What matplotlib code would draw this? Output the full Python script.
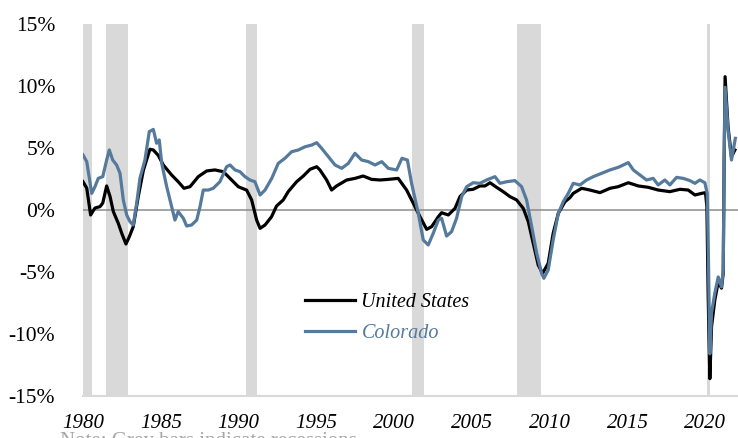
import numpy as np
import matplotlib
matplotlib.use("Agg")
import matplotlib.pyplot as plt

# employment growth, year over year (%)
us_years = [1980.0, 1980.24, 1980.49, 1980.77, 1981.09, 1981.27, 1981.52, 1981.74, 1981.95,
            1982.27, 1982.49, 1982.76, 1982.98, 1983.23, 1983.55, 1983.88, 1984.3, 1984.52,
            1984.84, 1985.16, 1985.7, 1986.12, 1986.49, 1986.88, 1987.41, 1987.95, 1988.48,
            1989.02, 1989.45, 1989.98, 1990.52, 1990.84, 1991.16, 1991.38, 1991.7, 1992.12,
            1992.44, 1992.87, 1993.19, 1993.73, 1994.16, 1994.59, 1995.02, 1995.23, 1995.66,
            1995.98, 1996.3, 1996.95, 1997.48, 1998.01, 1998.55, 1999.09, 1999.62, 2000.26,
            2000.8, 2001.23, 2001.66, 2002.09, 2002.41, 2002.84, 2003.05, 2003.48, 2003.91,
            2004.23, 2004.66, 2005.08, 2005.51, 2005.84, 2006.16, 2006.58, 2007.01, 2007.44,
            2007.87, 2008.3, 2008.62, 2008.94, 2009.26, 2009.54, 2009.9, 2010.22, 2010.55,
            2010.98, 2011.3, 2011.51, 2012.05, 2012.58, 2013.23, 2013.87, 2014.4, 2015.05,
            2015.69, 2016.33, 2016.97, 2017.72, 2018.37, 2018.9, 2019.33, 2019.76, 2020.01,
            2020.1, 2020.18, 2020.29, 2020.4, 2020.61, 2020.83, 2021.04, 2021.15, 2021.21,
            2021.27, 2021.46, 2021.68, 2021.9]
us_vals = [2.28, 1.77, -0.4, 0.16, 0.27, 0.56, 1.94, 1.08, -0.13,
           -1.08, -1.88, -2.74, -2.15, -1.34, 1.08, 3.2, 4.9, 4.84,
           4.4, 3.63, 2.82, 2.28, 1.75, 1.88, 2.69, 3.15, 3.23,
           3.09, 2.55, 1.88, 1.6, 0.81, -0.81, -1.48, -1.21, -0.54,
           0.32, 0.81, 1.48, 2.28, 2.74, 3.28, 3.49, 3.23, 2.42,
           1.61, 1.94, 2.42, 2.55, 2.74, 2.47, 2.42, 2.47, 2.55,
           1.61, 0.54, -0.54, -1.56, -1.34, -0.54, -0.22, -0.4, 0.13,
           1.08, 1.61, 1.67, 1.94, 1.94, 2.2, 1.83, 1.48, 1.08,
           0.81, 0.13, -0.94, -2.69, -4.44, -5.11, -4.3, -1.88, -0.27,
           0.67, 1.0, 1.34, 1.75, 1.61, 1.4, 1.75, 1.88, 2.2,
           1.94, 1.83, 1.61, 1.48, 1.67, 1.61, 1.21, 1.34, 1.4,
           0.27, -6.7, -13.6, -9.4, -7.26, -5.78, -6.3, -5.1, 4.0,
           10.75, 6.7, 4.3, 4.84]

co_years = [1980.0, 1980.24, 1980.56, 1980.77, 1980.98, 1981.27, 1981.52, 1981.69, 1981.91,
            1982.16, 1982.38, 1982.59, 1982.81, 1983.02, 1983.23, 1983.45, 1983.66, 1983.98,
            1984.26, 1984.52, 1984.73, 1984.9, 1985.06, 1985.38, 1985.7, 1985.91, 1986.12,
            1986.45, 1986.66, 1986.98, 1987.31, 1987.52, 1987.73, 1988.05, 1988.37, 1988.8,
            1989.23, 1989.45, 1989.77, 1990.09, 1990.41, 1990.73, 1991.05, 1991.38, 1991.7,
            1992.13, 1992.55, 1992.98, 1993.41, 1993.84, 1994.27, 1994.7, 1995.02, 1995.34,
            1995.77, 1996.2, 1996.63, 1997.05, 1997.48, 1997.91, 1998.34, 1998.77, 1999.2,
            1999.62, 2000.16, 2000.5, 2000.85, 2001.12, 2001.55, 2001.87, 2002.19, 2002.51,
            2002.84, 2003.05, 2003.37, 2003.69, 2004.01, 2004.34, 2004.66, 2005.08, 2005.51,
            2005.94, 2006.48, 2006.8, 2007.23, 2007.76, 2008.19, 2008.51, 2008.84, 2009.16,
            2009.48, 2009.62, 2009.9, 2010.22, 2010.55, 2010.87, 2011.19, 2011.51, 2011.94,
            2012.37, 2012.8, 2013.33, 2013.87, 2014.4, 2015.05, 2015.37, 2015.8, 2016.22,
            2016.65, 2016.97, 2017.4, 2017.72, 2018.15, 2018.58, 2019.01, 2019.33, 2019.65,
            2019.97, 2020.12, 2020.2, 2020.29, 2020.4, 2020.61, 2020.83, 2021.04, 2021.15,
            2021.21, 2021.27, 2021.46, 2021.68, 2021.93]
co_vals = [4.44, 3.9, 1.34, 1.88, 2.55, 2.69, 4.03, 4.84, 4.03,
           3.63, 2.96, 0.81, -0.4, -0.94, -1.21, 0.54, 2.55, 4.03,
           6.32, 6.5, 5.38, 5.65, 3.76, 1.88, 0.27, -0.81, -0.13,
           -0.67, -1.29, -1.21, -0.81, 0.27, 1.61, 1.61, 1.75, 2.28,
           3.49, 3.63, 3.23, 3.09, 2.69, 2.42, 2.28, 1.21, 1.61,
           2.55, 3.76, 4.17, 4.7, 4.84, 5.1, 5.24, 5.43, 4.97,
           4.3, 3.63, 3.36, 3.76, 4.57, 4.03, 3.9, 3.63, 3.9,
           3.36, 3.23, 4.17, 4.03, 2.15, -0.27, -2.42, -2.82, -1.88,
           -0.81, -0.67, -2.1, -1.75, -0.67, 1.08, 1.88, 2.2, 2.15,
           2.42, 2.69, 2.15, 2.28, 2.37, 1.88, 0.81, -1.34, -3.49,
           -5.11, -5.51, -4.84, -2.42, -0.27, 0.67, 1.34, 2.15, 2.02,
           2.42, 2.69, 2.96, 3.23, 3.44, 3.82, 3.23, 2.82, 2.42,
           2.55, 2.02, 2.42, 2.02, 2.63, 2.55, 2.37, 2.15, 2.42,
           2.2, 1.34, -4.0, -11.6, -8.3, -6.7, -5.4, -6.2, -4.84,
           4.0, 9.9, 6.45, 4.03, 5.78]

# NBER recessions (start, end) in decimal years
recessions = [(1980.0, 1980.55), (1981.5, 1982.9), (1990.5, 1991.2),
              (2001.17, 2001.9), (2007.92, 2009.46), (2020.08, 2020.33)]

year_ticks = [1980, 1985, 1990, 1995, 2000, 2005, 2010, 2015, 2020]
pct_ticks = [-15, -10, -5, 0, 5, 10, 15]

plt.rcParams['font.family'] = ['Liberation Serif', 'DejaVu Serif']

fig = plt.figure(figsize=(7.38, 4.38), dpi=100)
ax = fig.add_axes([83/738, 1 - 396/438, 1 - 83/738, (396 - 24)/438])

for r0, r1 in recessions:
    ax.axvspan(r0, r1, color='#d9d9d9', lw=0, zorder=0)

ax.axhline(0, color='#8c8c8c', lw=1.1, zorder=1)

blue = '#557a9c'
ax.plot(us_years, us_vals, color='black', lw=2.3, label='United States', zorder=3)
ax.plot(co_years, co_vals, color=blue, lw=2.3, label='Colorado', zorder=4)

ax.set_xlim(1980, 2022.1)
ax.set_ylim(-15, 15)
ax.set_xticks(year_ticks)
ax.set_xticklabels([str(y) for y in year_ticks], fontstyle='italic', fontsize=15)
ax.set_yticks(pct_ticks)
ax.set_yticklabels(['%d%%' % p for p in pct_ticks], fontsize=15.5)
ax.tick_params(axis='both', length=0, colors='black')
ax.tick_params(axis='y', pad=20)
ax.tick_params(axis='x', pad=13)

for s in ['top', 'right', 'left']:
    ax.spines[s].set_visible(False)
ax.spines['bottom'].set_color('#d9d9d9')
ax.spines['bottom'].set_linewidth(1.5)

leg = ax.legend(loc='upper left', bbox_to_anchor=(305/738, 1 - 293/438),
                bbox_transform=fig.transFigure, frameon=False,
                handlelength=2.5, handletextpad=0.3, labelspacing=0.6,
                borderpad=0, borderaxespad=0, prop={'style': 'italic', 'size': 14.5})
leg.get_texts()[1].set_color(blue)

fig.text(60/738, 1 - 432/438, 'Note: Grey bars indicate recessions.', color='#a6a6a6',
         fontsize=15, va='top', ha='left')

fig.savefig('out.png', dpi=100)
